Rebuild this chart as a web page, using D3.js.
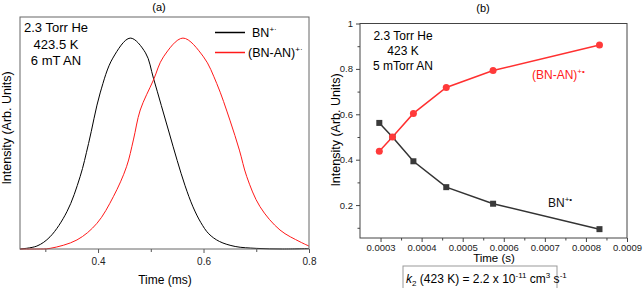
<!DOCTYPE html>
<html>
	<head>
		<title>BN / BN-AN intensity</title>
		<meta charset="UTF-8">
		<style type="text/css">
			body { margin: 0; background: #fff; }
			text { font-family: "Liberation Sans", Arial, sans-serif; }
		</style>
		<script src="https://d3js.org/d3.v7.min.js"></script>
	</head>
	<body>
		<script type="text/javascript">

			// panel (a): arrival time profiles
			var timeBN   = [0.252, 0.284, 0.309, 0.341, 0.366, 0.382, 0.404, 0.428, 0.461, 0.49, 0.505, 0.52, 0.535, 0.55, 0.565, 0.58, 0.595, 0.61, 0.63, 0.66, 0.70, 0.75, 0.8];
			var signalBN = [0, 0.014, 0.058, 0.177, 0.343, 0.50, 0.74, 0.905, 1.0, 0.93, 0.81, 0.68, 0.55, 0.42, 0.30, 0.20, 0.125, 0.072, 0.036, 0.012, 0.003, 0, 0.002];
			var timeAdd   = [0.252, 0.284, 0.309, 0.360, 0.398, 0.429, 0.454, 0.467, 0.480, 0.505, 0.524, 0.561, 0.600, 0.625, 0.650, 0.668, 0.682, 0.707, 0.745, 0.783, 0.8];
			var signalAdd = [0, 0, 0.003, 0.043, 0.122, 0.248, 0.390, 0.517, 0.659, 0.801, 0.911, 1.0, 0.911, 0.785, 0.611, 0.469, 0.343, 0.201, 0.090, 0.034, 0.014];
			var ticksA = [0.4, 0.6, 0.8];
			var minorA = [0.3, 0.5, 0.7];

			// panel (b): kinetics
			var timeB = [0.000297, 0.000329, 0.000380, 0.000460, 0.000574, 0.000833];
			var bnB   = [0.562, 0.500, 0.393, 0.279, 0.206, 0.094];
			var addB  = [0.437, 0.500, 0.604, 0.718, 0.793, 0.905];
			var ticksBx = [0.0003, 0.0004, 0.0005, 0.0006, 0.0007, 0.0008, 0.0009];
			var minorBx = [0.00035, 0.00045, 0.00055, 0.00065, 0.00075, 0.00085];
			var ticksBy = [0.2, 0.4, 0.6, 0.8, 1.0];
			var minorBy = [0.1, 0.3, 0.5, 0.7, 0.9];

			var svg = d3.select("body").append("svg")
				.attr("width", 643)
				.attr("height", 288);

			// ---------- panel (a)
			var xa = d3.scaleLinear().domain([0.252, 0.8]).range([20, 309]);
			var ya = d3.scaleLinear().domain([0, 1.1]).range([249, 17]);

			var ga = svg.append("g");

			ga.append("g")
				.attr("transform", "translate(0,249)")
				.call(d3.axisBottom(xa).tickValues(minorA).tickSize(3).tickFormat(""))
				.call(g => g.select(".domain").remove())
				.call(g => g.selectAll("line").attr("stroke", "#555"));
			ga.append("g")
				.attr("transform", "translate(0,249)")
				.call(d3.axisBottom(xa).tickValues(ticksA).tickSize(4).tickPadding(5).tickFormat(d3.format(".1f")))
				.call(g => g.select(".domain").remove())
				.call(g => g.selectAll("line").attr("stroke", "#555"))
				.call(g => g.selectAll("text").attr("font-size", 10).attr("fill", "#222")
					.attr("font-family", "'Liberation Sans', Arial, sans-serif"));

			var lineA = d3.line().curve(d3.curveCatmullRom.alpha(0.5))
				.x(d => xa(d[0])).y(d => ya(d[1]));

			ga.append("path")
				.attr("d", lineA(d3.zip(timeBN, signalBN)))
				.attr("fill", "none").attr("stroke", "#000").attr("stroke-width", 1);
			ga.append("path")
				.attr("d", lineA(d3.zip(timeAdd, signalAdd)))
				.attr("fill", "none").attr("stroke", "#ff1a1a").attr("stroke-width", 1);

			ga.append("rect")
				.attr("x", 20).attr("y", 17).attr("width", 289).attr("height", 232)
				.attr("fill", "none").attr("stroke", "#666").attr("stroke-width", 1);

			ga.append("text").attr("x", 159).attr("y", 11).attr("text-anchor", "middle")
				.attr("font-size", 11).text("(a)");
			ga.append("text").attr("x", 165).attr("y", 284).attr("text-anchor", "middle")
				.attr("font-size", 12).text("Time (ms)");
			ga.append("text").attr("transform", "translate(11,128) rotate(-90)")
				.attr("text-anchor", "middle").attr("font-size", 12.5).text("Intensity (Arb. Units)");

			var condA = ["2.3 Torr He", "423.5 K", "6 mT AN"];
			ga.selectAll(".cond").data(condA).enter().append("text")
				.attr("x", 56).attr("y", (d, i) => 32 + i * 16.5)
				.attr("text-anchor", "middle").attr("font-size", 13).text(d => d);

			// legend
			var legA = [{name: "BN", color: "#000", tx: 252}, {name: "(BN-AN)", color: "#ff1a1a", tx: 248}];
			legA.forEach(function(d, i) {
				var y = 32.5 + i * 20;
				ga.append("line").attr("x1", 215).attr("x2", 245).attr("y1", y).attr("y2", y)
					.attr("stroke", d.color).attr("stroke-width", 1.5);
				var t = ga.append("text").attr("x", d.tx).attr("y", y + 4.5).attr("font-size", 12.5);
				t.append("tspan").text(d.name);
				t.append("tspan").attr("dy", -5).attr("font-size", 8).text("+·");
			});

			// ---------- panel (b)
			var xb = d3.scaleLinear().domain([0.00025, 0.0009]).range([360, 627]);
			var yb = d3.scaleLinear().domain([0.055, 1.0]).range([238, 23.5]);

			var gb = svg.append("g");

			gb.append("rect")
				.attr("x", 360).attr("y", 23.5).attr("width", 267).attr("height", 214.5)
				.attr("fill", "none").attr("stroke", "#444").attr("stroke-width", 1);

			function styleAxis(g) {
				g.select(".domain").remove();
				g.selectAll("line").attr("stroke", "#444");
				g.selectAll("text").attr("font-size", 9.5).attr("fill", "#222")
					.attr("font-family", "'Liberation Sans', Arial, sans-serif");
			}

			gb.append("g").attr("transform", "translate(0,238)")
				.call(d3.axisBottom(xb).tickValues(minorBx).tickSize(2.5).tickFormat(""))
				.call(styleAxis);
			gb.append("g").attr("transform", "translate(0,238)")
				.call(d3.axisBottom(xb).tickValues(ticksBx).tickSize(4).tickPadding(2).tickFormat(d3.format(".4f")))
				.call(styleAxis);
			gb.append("g").attr("transform", "translate(360,0)")
				.call(d3.axisLeft(yb).tickValues(minorBy).tickSize(2.5).tickFormat(""))
				.call(styleAxis);
			gb.append("g").attr("transform", "translate(360,0)")
				.call(d3.axisLeft(yb).tickValues(ticksBy).tickSize(4).tickPadding(3).tickFormat(d => d === 1 ? "1" : d3.format(".1f")(d)))
				.call(styleAxis);

			var lineB = d3.line().x(d => xb(d[0])).y(d => yb(d[1]));

			gb.append("path").attr("d", lineB(d3.zip(timeB, bnB)))
				.attr("fill", "none").attr("stroke", "#333").attr("stroke-width", 1.5);
			gb.append("path").attr("d", lineB(d3.zip(timeB, addB)))
				.attr("fill", "none").attr("stroke", "#ff3030").attr("stroke-width", 1.5);

			gb.selectAll(".sq").data(d3.zip(timeB, bnB)).enter().append("rect")
				.attr("x", d => xb(d[0]) - 3).attr("y", d => yb(d[1]) - 3)
				.attr("width", 6).attr("height", 6).attr("fill", "#3a3a3a");
			gb.selectAll(".dot").data(d3.zip(timeB, addB)).enter().append("circle")
				.attr("cx", d => xb(d[0])).attr("cy", d => yb(d[1])).attr("r", 3.5)
				.attr("fill", "#ff3a3a");

			gb.append("text").attr("x", 483).attr("y", 12).attr("text-anchor", "middle")
				.attr("font-size", 11).text("(b)");
			gb.append("text").attr("x", 494).attr("y", 262).attr("text-anchor", "middle")
				.attr("font-size", 11.5).text("Time (s)");
			gb.append("text").attr("transform", "translate(340,130) rotate(-90)")
				.attr("text-anchor", "middle").attr("font-size", 12.5).text("Intensity (Arb. Units)");

			var condB = ["2.3 Torr He", "423 K", "5 mTorr AN"];
			gb.selectAll(".cond").data(condB).enter().append("text")
				.attr("x", 403).attr("y", (d, i) => 39.5 + i * 15)
				.attr("text-anchor", "middle").attr("font-size", 12).text(d => d);

			var lab1 = gb.append("text").attr("x", 532).attr("y", 78.5).attr("font-size", 12).attr("fill", "#ff2020");
			lab1.append("tspan").text("(BN-AN)");
			lab1.append("tspan").attr("dy", -5).attr("font-size", 8).text("+•");

			var lab2 = gb.append("text").attr("x", 548).attr("y", 206.5).attr("font-size", 12).attr("fill", "#111");
			lab2.append("tspan").text("BN");
			lab2.append("tspan").attr("dy", -5).attr("font-size", 8).text("+•");

			// rate constant box
			gb.append("rect").attr("x", 403).attr("y", 266).attr("width", 154).attr("height", 26)
				.attr("fill", "#fff").attr("stroke", "#999").attr("stroke-width", 1);
			var k = gb.append("text").attr("x", 406).attr("y", 283).attr("font-size", 12);
			k.append("tspan").attr("font-style", "italic").text("k");
			k.append("tspan").attr("dy", 3).attr("font-size", 8).text("2");
			k.append("tspan").attr("dy", -3).text(" (423 K) = 2.2 x 10");
			k.append("tspan").attr("dy", -5).attr("font-size", 8).text("-11");
			k.append("tspan").attr("dy", 5).text(" cm");
			k.append("tspan").attr("dy", -5).attr("font-size", 8).text("3");
			k.append("tspan").attr("dy", 5).text(" s");
			k.append("tspan").attr("dy", -5).attr("font-size", 8).text("-1");

		</script>
	</body>
</html>
